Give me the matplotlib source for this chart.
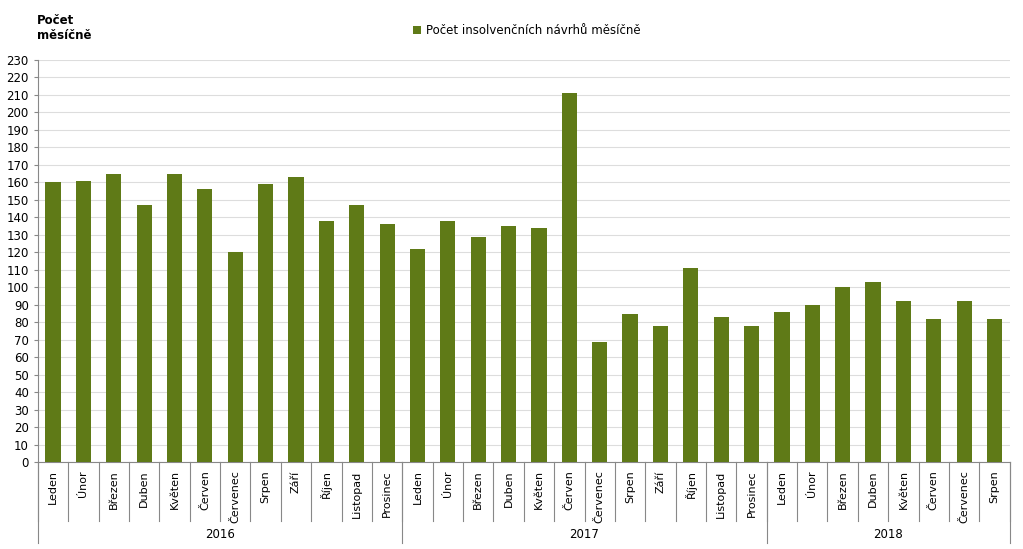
import matplotlib.pyplot as plt

months = ["Leden", "Únor", "Březen", "Duben", "Květen", "Červen", "Červenec",
          "Srpen", "Září", "Říjen", "Listopad", "Prosinec"]
years = ["2016", "2017", "2018"]
counts_2016 = [160, 161, 165, 147, 165, 156, 120, 159, 163, 138, 147, 136]
counts_2017 = [122, 138, 129, 135, 134, 211, 69, 85, 78, 111, 83, 78]
counts_2018 = [86, 90, 100, 103, 92, 82, 92, 82]

values = counts_2016 + counts_2017 + counts_2018
labels = months + months + months[:len(counts_2018)]
group_sizes = [len(counts_2016), len(counts_2017), len(counts_2018)]

fig = plt.figure(figsize=(10.23, 5.49), dpi=100)
ax = fig.add_axes([0.037, 0.158, 0.950, 0.733])
x = list(range(len(values)))
ax.bar(x, values, width=0.5, color="#5f7a17", zorder=3,
       label="Počet insolvenčních návrhů měsíčně")
ax.set_xlim(-0.5, len(values) - 0.5)
ax.set_ylim(0, 230)
ax.set_yticks(range(0, 231, 10))
ax.tick_params(axis="y", labelsize=8.5, length=3, color="#888888")
ax.set_xticks([])
ax.grid(axis="y", color="#dddddd", linewidth=0.8, zorder=0)
for s in ["top", "right"]:
    ax.spines[s].set_visible(False)
ax.spines["left"].set_color("#888888")
ax.spines["bottom"].set_color("#888888")

trans = ax.get_xaxis_transform()
for i, lab in enumerate(labels):
    ax.text(i, -0.02, lab, rotation=90, ha="center", va="top", fontsize=8, transform=trans)
# separators between months
for i in range(len(values) + 1):
    ax.plot([i - 0.5, i - 0.5], [0, -0.145], transform=trans, color="#888888",
            linewidth=0.8, clip_on=False)
# year groups
start = 0
for yr, n in zip(years, group_sizes):
    ax.plot([start - 0.5, start - 0.5], [0, -0.2], transform=trans, color="#888888",
            linewidth=0.8, clip_on=False)
    ax.text(start + n / 2 - 0.5, -0.18, yr, ha="center", va="center", fontsize=8.5,
            transform=trans)
    start += n
ax.plot([start - 0.5, start - 0.5], [0, -0.2], transform=trans, color="#888888",
        linewidth=0.8, clip_on=False)

fig.text(0.036, 0.975, "Počet\nměsíčně", fontsize=8.5, fontweight="bold", ha="left", va="top")
leg = fig.legend(loc="upper center", bbox_to_anchor=(0.515, 0.975), frameon=False,
                 fontsize=8.5, handlelength=0.7, handleheight=0.7, handletextpad=0.4)
fig.savefig("out.png", dpi=100)
